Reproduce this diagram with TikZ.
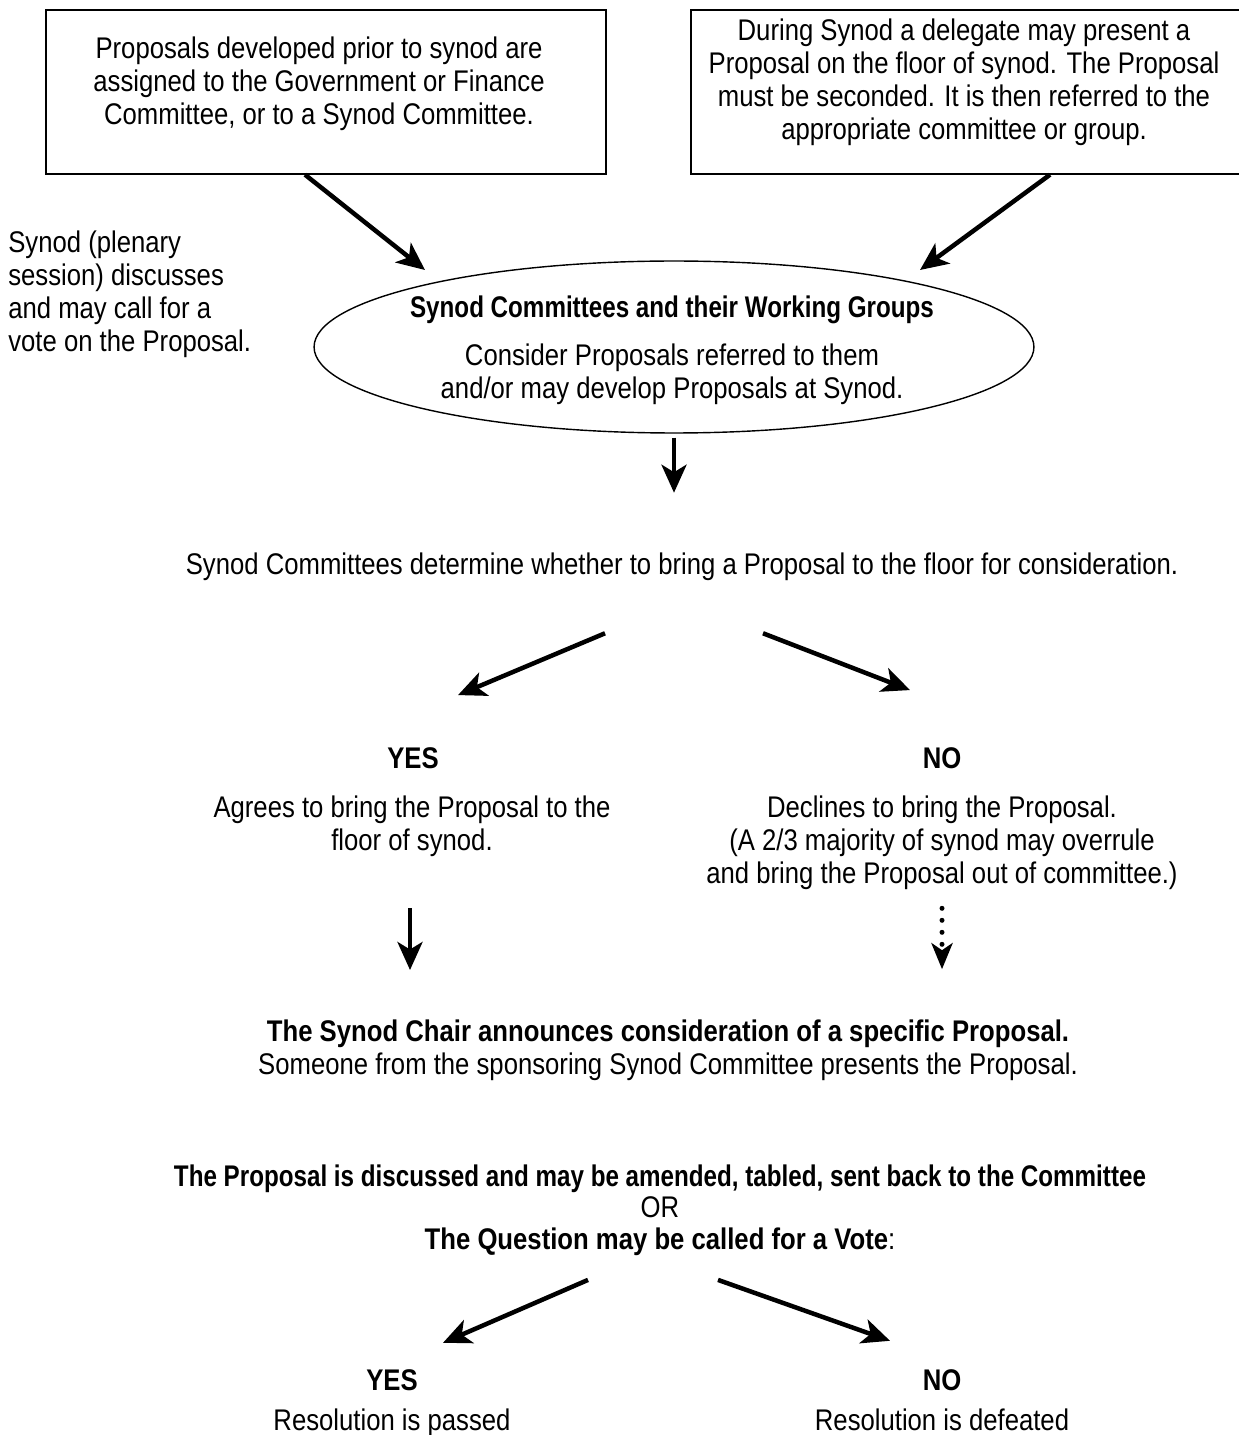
\documentclass[tikz,border=0pt]{standalone}
\usepackage{fontspec}
\setmainfont{Liberation Sans}[FakeStretch=0.86]
\newfontfamily\tightfont{Liberation Sans}[FakeStretch=0.81]
\usetikzlibrary{calc}
\usetikzlibrary{arrows.meta}
\usetikzlibrary{shapes.geometric}
\tikzset{>={Stealth[length=0.56cm,width=0.5cm,inset=0.15cm]}}
\tikzset{
  txt/.style={align=center, inner sep=0pt, font=\fontsize{17}{18.8}\selectfont},
  hd/.style={txt, font=\fontsize{17}{18.8}\selectfont\bfseries},
  propbox/.style={draw, line width=0.8pt, minimum height=3.28cm},
  flow/.style={->, line width=0.09cm},
  maybeflow/.style={-{Stealth[length=0.52cm,width=0.42cm,inset=0.14cm]}, line width=0.1cm,
    line cap=round, dash pattern=on 0pt off 0.24cm}
}

\begin{document}
\begin{tikzpicture}[x=0.02cm, y=-0.02cm]
                \useasboundingbox (0,0) rectangle (1239,1435);

                % Where proposals come from
                \node[propbox, minimum width=11.2cm] (prior) at (326,92) {};
                \node[propbox, minimum width=11.4cm] (floor) at (976,92) {};
                \node[txt] (priortext) at (319,84)
                  {Proposals developed prior to synod are\\assigned to the Government or Finance\\Committee, or to a Synod Committee.};
                \node[txt] (floortext) at (964,82)
                  {During Synod a delegate may present a\\Proposal on the floor of synod. The Proposal\\must be seconded. It is then referred to the\\appropriate committee or group.};

                \node[txt, align=left, anchor=west] (plenary) at (8,294)
                  {Synod (plenary\\session) discusses\\and may call for a\\vote on the Proposal.};

                % Committees
                \node[draw, ellipse, line width=0.8pt, inner sep=0pt, minimum width=14.4cm, minimum height=3.44cm] (cttee) at (674,347) {};
                \node[txt] (ctteetext) at (672,350)
                  {{\tightfont\bfseries Synod Committees and their Working Groups}\\[0.3cm]Consider Proposals referred to them\\and/or may develop Proposals at Synod.};

                \node[txt] (decide) at (682,567)
                  {Synod Committees determine whether to bring a Proposal to the floor for consideration.};

                % First decision
                \node[hd] (yes1) at (413,758) {YES};
                \node[hd] (no1) at (942,758) {NO};
                \node[txt] (agree) at (412,826) {Agrees to bring the Proposal to the\\floor of synod.};
                \node[txt] (decline) at (942,843)
                  {Declines to bring the Proposal.\\(A 2/3 majority of synod may overrule\\and bring the Proposal out of committee.)};

                \node[txt] (chair) at (668,1050)
                  {\textbf{The Synod Chair announces consideration of a specific Proposal.}\\Someone from the sponsoring Synod Committee presents the Proposal.};

                \node[txt, font=\fontsize{17}{18}\selectfont] (debate) at (660,1210)
                  {{\tightfont\bfseries The Proposal is discussed and may be amended, tabled, sent back to the Committee}\\OR\\\textbf{The Question may be called for a Vote}:};

                % Vote
                \node[hd, anchor=base] (yes2) at (392,1390) {YES};
                \node[hd, anchor=base] (no2) at (942,1390) {NO};
                \node[txt, anchor=base] (passed) at (392,1430) {Resolution is passed};
                \node[txt, anchor=base] (defeated) at (942,1430) {Resolution is defeated};

                % Arrow ends
                \coordinate (in1) at (425,270);
                \coordinate (in2) at (920,270);

                \draw[flow] ($(prior.south)+(-21,0)$) -- (in1);
                \draw[flow] ($(floor.south)+(74,0)$) -- (in2);
                \draw[flow] ($(cttee.south)+(0,4)$) -- ($(decide.north)+(-8,-60)$);
                \draw[flow] ($(decide.south)+(-77,52)$) -- ($(yes1.north)+(45,-52)$);
                \draw[flow] ($(decide.south)+(81,52)$) -- ($(no1.north)+(-32,-57)$);
                \draw[flow] (410,908) -- (410,970);
                \draw[maybeflow] ($(decline.south)+(0,18)$) -- ($(chair.north)+(274,-50)$);
                \draw[flow] ($(debate.south)+(-72,24)$) -- ($(yes2.north)+(51,-26)$);
                \draw[flow] ($(debate.south)+(58,24)$) -- ($(no2.north)+(-52,-28)$);
            \end{tikzpicture}
\end{document}
